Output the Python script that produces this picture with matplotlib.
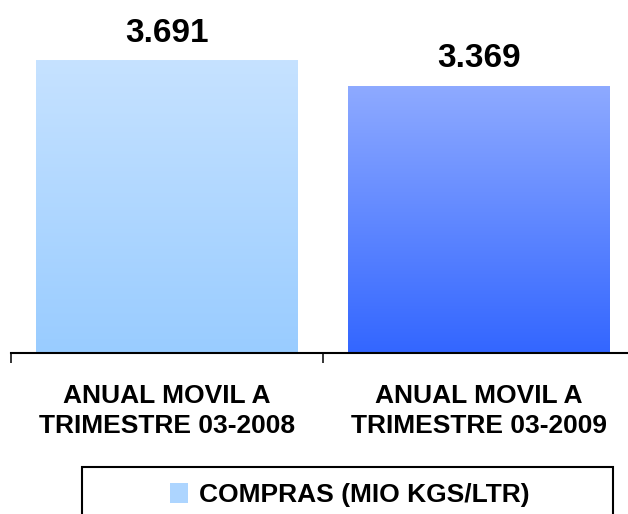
import matplotlib
matplotlib.use("Agg")
import matplotlib.pyplot as plt
import numpy as np
from matplotlib.colors import LinearSegmentedColormap
from matplotlib.patches import Patch, Rectangle

plt.rcParams['font.family'] = ['Liberation Sans', 'DejaVu Sans']

# data
categories = ["ANUAL MOVIL A\nTRIMESTRE 03-2008", "ANUAL MOVIL A\nTRIMESTRE 03-2009"]
values = [3691, 3369]
value_labels = ["3.691", "3.369"]
series_name = "COMPRAS (MIO KGS/LTR)"

# gradient colours (bottom, top) per bar
grads = [("#99CCFF", "#C6E2FF"), ("#3366FF", "#8EAAFF")]

fig = plt.figure(figsize=(6.28, 5.14), dpi=100)
W, H = 628, 514
ax = fig.add_axes([11 / W, (H - 353) / H, 624 / W, 316.5 / H])

bw = 0.837
x = np.arange(len(values))
ramp = np.linspace(0, 1, 256).reshape(-1, 1)
for xi, v, lab, (c0, c1) in zip(x, values, value_labels, grads):
    cm = LinearSegmentedColormap.from_list("g", [c0, c1])
    ax.imshow(ramp, extent=[xi - bw / 2, xi + bw / 2, 0, v], origin="lower",
              aspect="auto", cmap=cm, zorder=1)
    ax.text(xi, v + 155, lab, ha="center", va="bottom", fontsize=24,
            fontweight="bold")

ax.set_xlim(-0.5, 1.5)
ax.set_ylim(0, 4000)
for s in ["top", "right", "left"]:
    ax.spines[s].set_visible(False)
ax.spines["bottom"].set_linewidth(1.5)
ax.spines["bottom"].set_zorder(3)
ax.set_yticks([])

ax.set_xticks([-0.5, 0.5, 1.5])
ax.set_xticklabels([])
ax.tick_params(axis="x", which="major", direction="out", length=7, width=1.1)
ax.set_xticks(x, minor=True)
ax.set_xticklabels(categories, minor=True, fontsize=19, fontweight="bold",
                   linespacing=1.32)
ax.tick_params(axis="x", which="minor", length=0, pad=22)

# legend
handle = Patch(facecolor="#ADD5FF", edgecolor="none")
fig.legend([handle], [series_name], loc="center",
           bbox_to_anchor=(349.5 / W, (H - 495) / H), frameon=False,
           prop={"size": 19, "weight": "bold"}, handlelength=0.7,
           handleheight=0.8, handletextpad=0.4)
fig.patches.append(Rectangle((82 / W, -0.05), 531 / W, (H - 467) / H + 0.05,
                             transform=fig.transFigure, fill=False,
                             edgecolor="black", linewidth=1.5))

fig.savefig("out.png", dpi=100)
